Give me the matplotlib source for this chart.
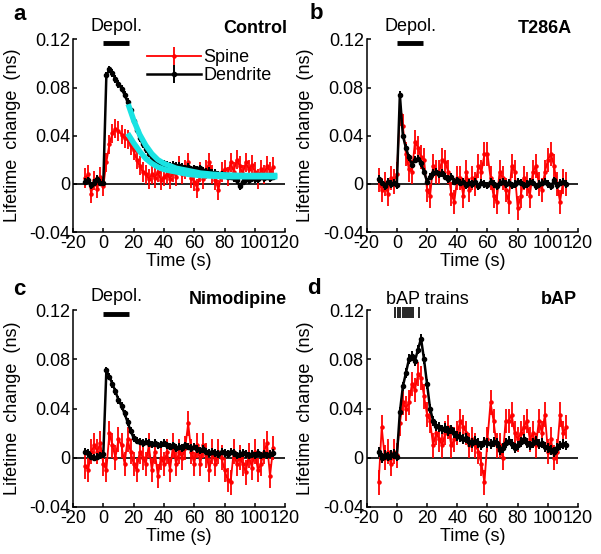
import matplotlib.pyplot as plt
import numpy as np

plt.rcParams['font.family'] = ['Liberation Sans', 'DejaVu Sans']
plt.rcParams['axes.unicode_minus'] = False

# sample times (s), one point every 2 s
time_s = np.arange(-12, 113, 2)

# panel a: Control
control_dendrite = [0.002, 0.003, -0.001, 0.001, 0.004, 0.001, 0.001, 0.090, 0.095, 0.092,
                    0.087, 0.083, 0.079, 0.074, 0.068, 0.061, 0.052, 0.045, 0.038, 0.033,
                    0.029, 0.025, 0.022, 0.020, 0.018, 0.017, 0.017, 0.016, 0.015, 0.016,
                    0.015, 0.015, 0.014, 0.013, 0.014, 0.012, 0.013, 0.012, 0.013, 0.011,
                    0.010, 0.011, 0.009, 0.009, 0.008, 0.008, 0.007, 0.006, 0.006, 0.005,
                    0.003, -0.002, 0.002, 0.004, 0.003, 0.005, 0.004, 0.004, 0.006, 0.005,
                    0.006, 0.005, 0.006]
control_spine = [0.005, 0.008, -0.008, 0.003, -0.004, 0.006, -0.002, 0.018, 0.033, 0.042,
                 0.046, 0.044, 0.041, 0.038, 0.037, 0.032, 0.028, 0.020, 0.015, 0.010,
                 0.008, 0.004, 0.008, 0.005, 0.010, 0.003, 0.006, 0.008, 0.004, 0.010,
                 0.006, 0.015, 0.008, 0.012, 0.018, 0.005, 0.002, -0.004, 0.010, 0.004,
                 0.012, 0.018, 0.008, 0.003, -0.005, 0.010, 0.012, 0.006, 0.018, 0.010,
                 0.020, 0.015, 0.008, 0.018, 0.012, 0.016, 0.010, 0.004, 0.012, 0.008,
                 0.015, 0.010, 0.014]
fit_time = [17, 20, 24, 28, 32, 36, 40, 48, 56, 64, 72, 80, 90, 100, 113]
fit_dendrite = [0.064, 0.053, 0.041, 0.032, 0.025, 0.020, 0.017, 0.013, 0.011, 0.009,
                0.008, 0.0075, 0.007, 0.007, 0.007]
fit_spine = [0.040, 0.034, 0.027, 0.021, 0.017, 0.014, 0.012, 0.010, 0.008, 0.007,
             0.0065, 0.006, 0.006, 0.006, 0.006]

# panel b: T286A
t286a_dendrite = [0.004, 0.001, -0.002, 0.002, 0.000, 0.001, -0.001, 0.074, 0.040, 0.030,
                  0.022, 0.016, 0.020, 0.021, 0.017, 0.010, 0.002, 0.006, 0.009, 0.010,
                  0.008, 0.009, 0.006, 0.004, 0.006, 0.002, 0.003, 0.001, 0.002, -0.001,
                  0.001, 0.000, 0.002, -0.002, 0.001, 0.000, -0.001, 0.002, 0.000, -0.002,
                  0.001, 0.002, 0.000, 0.001, -0.001, 0.000, 0.002, 0.001, -0.001, 0.000,
                  0.002, 0.001, -0.002, 0.000, 0.001, 0.002, 0.000, -0.002, 0.003, -0.001,
                  0.001, 0.002, 0.000]
t286a_spine = [0.003, -0.005, 0.000, -0.008, 0.005, 0.002, 0.008, 0.058, 0.048, 0.025,
               0.012, 0.010, 0.035, 0.030, 0.022, 0.020, -0.005, -0.010, 0.015, 0.010,
               0.010, 0.020, 0.018, 0.010, -0.008, -0.015, 0.005, 0.005, -0.010, 0.010,
               -0.005, 0.005, 0.000, 0.015, 0.010, 0.025, 0.025, 0.005, -0.010, -0.015,
               0.010, 0.005, -0.005, -0.015, 0.015, 0.010, -0.020, -0.010, 0.005, 0.000,
               -0.010, 0.010, 0.015, 0.000, -0.005, 0.010, 0.020, 0.025, 0.015, 0.000,
               -0.015, 0.002, 0.000]

# panel c: Nimodipine
nimo_dendrite = [0.005, 0.004, 0.001, 0.000, 0.001, 0.002, 0.003, 0.071, 0.066, 0.060,
                 0.054, 0.047, 0.042, 0.036, 0.029, 0.022, 0.016, 0.014, 0.013, 0.012,
                 0.013, 0.012, 0.011, 0.012, 0.010, 0.011, 0.012, 0.010, 0.009, 0.010,
                 0.008, 0.009, 0.008, 0.010, 0.009, 0.008, 0.009, 0.007, 0.006, 0.007,
                 0.005, 0.004, 0.005, 0.004, 0.003, 0.005, 0.004, 0.003, 0.005, 0.004,
                 0.002, 0.003, 0.004, 0.003, 0.002, 0.003, 0.002, 0.004, 0.002, 0.003,
                 0.002, 0.003, 0.004]
nimo_spine = [-0.007, -0.010, 0.005, 0.010, 0.005, 0.012, -0.005, -0.010, 0.020, 0.010,
              0.000, 0.015, 0.010, -0.005, 0.015, 0.005, -0.005, -0.010, 0.005, 0.000,
              -0.005, 0.010, -0.010, 0.005, -0.015, 0.000, -0.005, 0.005, -0.010, 0.010,
              -0.005, 0.005, 0.000, 0.008, 0.028, 0.005, -0.005, 0.010, -0.005, 0.010,
              0.002, -0.010, 0.005, -0.005, 0.005, 0.000, -0.010, -0.018, -0.020, 0.005,
              -0.005, 0.000, -0.005, -0.012, 0.002, -0.008, 0.005, -0.010, -0.005, 0.005,
              0.012, -0.015, 0.008]

# panel d: bAP
bap_dendrite = [0.005, 0.000, 0.002, 0.001, 0.002, 0.003, 0.001, 0.037, 0.058, 0.069,
                0.080, 0.083, 0.079, 0.088, 0.097, 0.080, 0.060, 0.040, 0.030, 0.026,
                0.025, 0.023, 0.024, 0.022, 0.023, 0.020, 0.018, 0.017, 0.015, 0.016,
                0.013, 0.012, 0.014, 0.012, 0.010, 0.013, 0.012, 0.011, 0.013, 0.012,
                0.006, 0.008, 0.012, 0.014, 0.011, 0.008, 0.010, 0.013, 0.015, 0.012,
                0.010, 0.012, 0.014, 0.011, 0.012, 0.009, 0.008, 0.006, 0.005, 0.008,
                0.010, 0.011, 0.010]
bap_spine = [-0.020, 0.025, 0.000, 0.005, -0.005, 0.005, 0.002, 0.028, 0.045, 0.040,
             0.045, 0.060, 0.055, 0.068, 0.065, 0.050, 0.035, 0.030, 0.010, 0.020,
             0.015, 0.010, 0.020, 0.025, 0.010, 0.015, 0.020, 0.030, 0.025, 0.020,
             0.010, 0.015, 0.010, 0.005, -0.005, -0.020, 0.015, 0.045, 0.030, 0.010,
             0.010, 0.000, 0.030, 0.030, 0.035, 0.020, 0.015, 0.020, 0.025, 0.030,
             0.015, 0.020, 0.010, 0.030, 0.020, 0.035, 0.005, 0.015, 0.000, 0.005,
             0.035, 0.020, 0.025]
bap_train_times = [-1.3, 0.5, 2.2, 4.2, 5.3, 6.4, 8.2, 9.3, 10.4, 14.8]

depol_window = [0, 17]

fig = plt.figure(figsize=(6.01, 5.54), dpi=100)
ax_a = fig.add_axes([0.1215, 0.581, 0.353, 0.348])
ax_b = fig.add_axes([0.610, 0.581, 0.352, 0.348])
ax_c = fig.add_axes([0.1215, 0.085, 0.353, 0.355])
ax_d = fig.add_axes([0.610, 0.085, 0.352, 0.355])

FS = 13


def draw_panel(ax, spine, dendrite, spine_err, dend_err, title, title_x):
    sp = ax.errorbar(time_s, spine, yerr=spine_err, color='red', marker='.', ms=4.5,
                     lw=1.3, elinewidth=1.3, capsize=0, zorder=2)
    dd = ax.errorbar(time_s, dendrite, yerr=dend_err, color='black', marker='.', ms=6,
                     lw=1.8, elinewidth=1.4, capsize=0, zorder=3)
    ax.axhline(0, color='black', lw=1.2, zorder=1)
    ax.set_xlim(-20, 120)
    ax.set_ylim(-0.04, 0.12)
    ax.set_xticks(range(-20, 121, 20))
    ax.set_yticks([-0.04, 0, 0.04, 0.08, 0.12])
    ax.set_yticklabels(['-0.04', '0', '0.04', '0.08', '0.12'])
    for side in ['top', 'right']:
        ax.spines[side].set_visible(False)
    for side in ['left', 'bottom']:
        ax.spines[side].set_linewidth(1.1)
    ax.tick_params(direction='in', length=3, width=1.1, labelsize=FS, pad=2)
    ax.set_xlabel('Time (s)', fontsize=FS, labelpad=1)
    ax.set_ylabel('Lifetime  change  (ns)', fontsize=FS, labelpad=6)
    ax.text(title_x, 1.055, title, transform=ax.transAxes, ha='right', va='center',
            fontsize=FS, fontweight='bold')
    return sp, dd


def draw_depol(ax):
    ax.plot(depol_window, [0.117, 0.117], color='black', lw=3.5, clip_on=False,
            solid_capstyle='butt')
    ax.text(9, 0.131, 'Depol.', ha='center', va='center', fontsize=FS)


sp, dd = draw_panel(ax_a, control_spine, control_dendrite, 0.008, 0.003, 'Control', 1.01)
ax_a.plot(fit_time, fit_dendrite, color='#19e3e3', lw=4, zorder=4)
ax_a.plot(fit_time, fit_spine, color='#19e3e3', lw=4, zorder=4)
draw_depol(ax_a)
ax_a.legend([sp, dd], ['Spine', 'Dendrite'], loc='upper left', bbox_to_anchor=(0.35, 0.95),
            frameon=False, handlelength=3, handletextpad=0.1, labelspacing=0.05,
            borderpad=0, borderaxespad=0, fontsize=FS)

draw_panel(ax_b, t286a_spine, t286a_dendrite, 0.01, 0.003, 'T286A', 0.97)
draw_depol(ax_b)

draw_panel(ax_c, nimo_spine, nimo_dendrite, 0.01, 0.003, 'Nimodipine', 1.01)
draw_depol(ax_c)

draw_panel(ax_d, bap_spine, bap_dendrite, 0.01, 0.004, 'bAP', 0.995)
ax_d.vlines(bap_train_times, 0.114, 0.123, color='black', lw=1.2, clip_on=False)
ax_d.text(20, 0.129, 'bAP trains', ha='center', va='center', fontsize=FS)

for letter, x, y in [('a', 13, 20), ('b', 310, 19), ('c', 13, 295), ('d', 307, 294)]:
    fig.text(x / 601, 1 - y / 554, letter, ha='left', va='baseline', fontsize=16,
             fontweight='bold')

fig.savefig('out.png', dpi=100)
